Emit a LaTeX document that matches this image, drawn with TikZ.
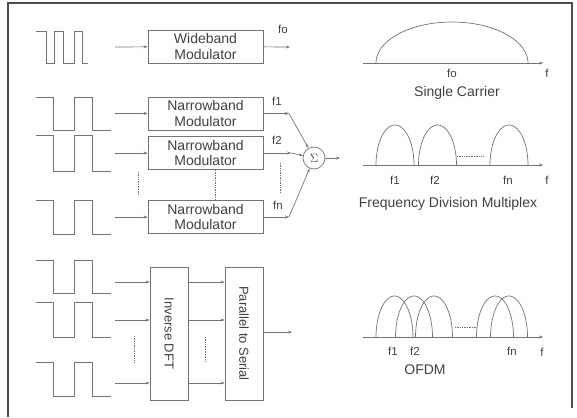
\documentclass[tikz,border=0pt]{standalone}
\usepackage{fontspec}
\setmainfont{Liberation Sans}
\usepackage{graphicx}
\usepackage{tikz}
\usetikzlibrary{arrows.meta}

\begin{document}
\begin{tikzpicture}[x=1pt,y=-1pt,
    line width=0.7pt,
    ln/.style={draw=black!55},
    arr/.style={ln,-{Stealth[length=4pt,width=3pt]}},
    dots/.style={ln,densely dotted},
    box/.style={ln,minimum width=115pt,minimum height=33pt,inner sep=0pt,align=center,
        font=\fontsize{14}{15.5}\selectfont,text=black!75},
    tall/.style={ln,minimum width=38pt,minimum height=133pt,inner sep=0pt,
        font=\fontsize{13}{14}\selectfont,text=black!75},
    lab/.style={font=\fontsize{14}{15}\selectfont,text=black!75,inner sep=0pt},
    flab/.style={font=\fontsize{11.5}{12}\selectfont,text=black!75,inner sep=0pt}]
    \useasboundingbox (0,0) rectangle (577,417);
    \draw[black!70,line width=1.6pt] (8,417) -- (8,3) -- (572,3) -- (572,408);

    % input waveforms
    \draw[ln] (36,31) -- (46,31) -- (46,63) -- (54,63) -- (54,31) -- (63,31) -- (63,63)
        -- (74,63) -- (74,31) -- (82,31) -- (82,63) -- (88,63);
    \foreach \t/\b in {97/130,135/171,200/234,260/293,302/337,362/396}
        \draw[ln] (36,\t) -- (53,\t) -- (53,\b) -- (74,\b) -- (74,\t) -- (92,\t) -- (92,\b) -- (111,\b);

    % single carrier
    \node[box] (wb) at (205.5,46.5) {Wideband\\Modulator};
    \coordinate (in0) at (115,47);
    \coordinate (out0) at (290,47);
    \draw[arr] (in0) -- (wb);
    \draw[arr] (wb) -- (out0);
    \node[flab] (fo) at (283,29) {fo};

    % frequency division multiplex
    \node[box] (nb1) at (205.5,113.5) {Narrowband\\Modulator};
    \node[box] (nb2) at (205.5,153) {Narrowband\\Modulator};
    \node[box] (nb3) at (205.5,217) {Narrowband\\Modulator};
    \node[ln,circle,minimum size=22pt,inner sep=0pt,text=black!75,font=\large] (sum) at (314,158) {$\Sigma$};
    \foreach \n/\y in {1/113.5,2/153,3/217} {
        \coordinate (in\n) at (115,\y);
        \draw[arr] (in\n) -- (nb\n);
    }
    \coordinate (k1) at (289,113.5);
    \coordinate (k2) at (291,153);
    \coordinate (k3) at (289,217);
    \foreach \n in {1,2,3} {
        \draw[arr] (nb\n) -- (k\n);
        \draw[arr] (k\n) -- (sum);
    }
    \coordinate (out1) at (340,158);
    \draw[arr] (sum) -- (out1);
    \draw[dots] ([xshift=10pt]nb2.south) -- ([xshift=10pt]nb3.north);
    \draw[dots] (138,172) -- (138,195);
    \draw[dots] (280,163) -- (280,192);
    \node[flab] (f1) at (277,101) {f1};
    \node[flab] (f2) at (277,140) {f2};
    \node[flab] (fn) at (278,205) {fn};

    % OFDM
    \node[tall] (idft) at (169,333.5) {\rotatebox{-90}{Inverse DFT}};
    \node[tall] (ps) at (244,333.5) {\rotatebox{-90}{Parallel to Serial}};
    \foreach \y [count=\i] in {282,320,383} {
        \coordinate (a\i) at (115,\y);
        \draw[arr] (a\i) -- (a\i -| idft.west);
        \draw[arr] (a\i -| idft.east) -- (a\i -| ps.west);
    }
    \coordinate (out2) at (292,332);
    \draw[arr] (ps.east |- out2) -- (out2);
    \draw[dots] (134,336) -- (134,363);
    \draw[dots] (205,337) -- (205,362);

    % spectra
    \draw[arr] (363,63) -- (543,63);
    \draw[ln] plot[domain=0:180,samples=50,smooth] ({452-76*cos(\x)},{63-41*sin(\x)});
    \node[flab] (sfo) at (452,73) {fo};
    \node[flab] (sf) at (547,73) {f};
    \node[lab] (sc) at (457,93) {Single Carrier};

    \draw[arr] (363,165) -- (543,165);
    \foreach \c in {395,437.5,509}
        \draw[ln] plot[domain=0:180,samples=40,smooth] ({\c-19*cos(\x)},{165-40*sin(\x)});
    \draw[dots] (457,156) -- (484,156);
    \node[flab] (df1) at (395,180) {f1};
    \node[flab] (df2) at (435,180) {f2};
    \node[flab] (dfn) at (508,180) {fn};
    \node[flab] (df) at (547,180) {f};
    \node[lab] (fdm) at (448,204) {Frequency Division Multiplex};

    \draw[arr] (363,337) -- (543,337);
    \foreach \c in {394.5,414,434,495,509}
        \draw[ln] plot[domain=0:180,samples=40,smooth] ({\c-18.5*cos(\x)},{337-41*sin(\x)});
    \draw[dots] (455,327) -- (477,327);
    \node[flab] (of1) at (393,351) {f1};
    \node[flab] (of2) at (415,351) {f2};
    \node[flab] (ofn) at (512,351) {fn};
    \node[flab] (of) at (542,352) {f};
    \node[lab] (ofdm) at (425,370) {OFDM};
\end{tikzpicture}
\end{document}
